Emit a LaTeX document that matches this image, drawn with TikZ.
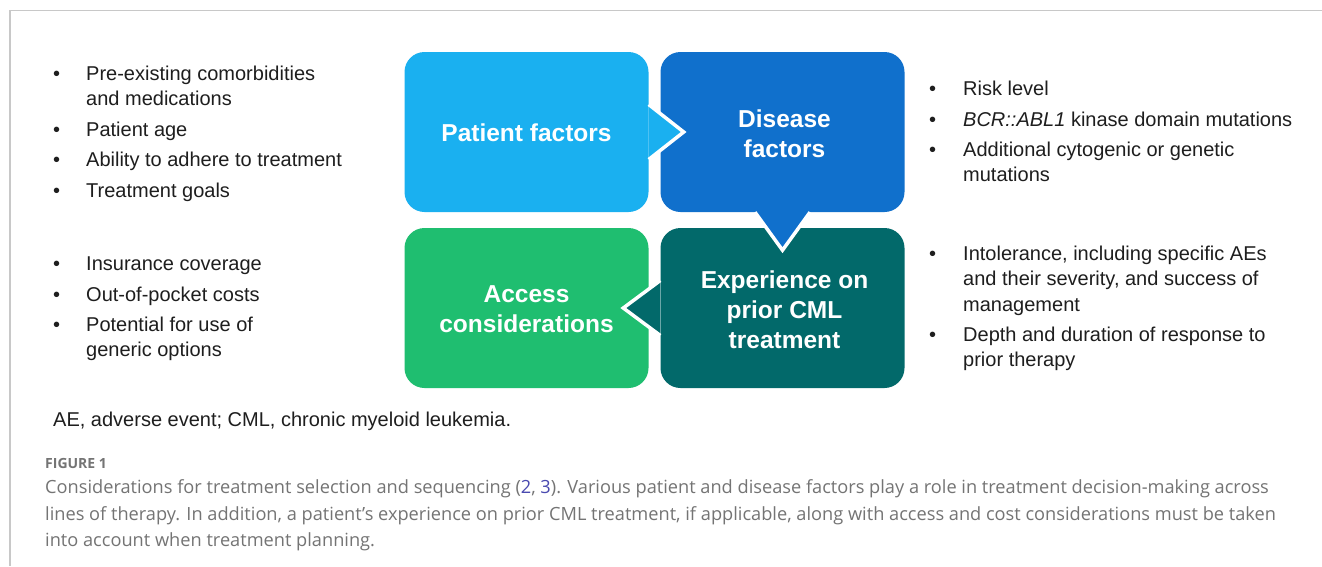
\documentclass[tikz,border=0pt]{standalone}
\usepackage{fontspec}
\setmainfont{Liberation Sans}
\newfontfamily\capfont{Open Sans}
\usetikzlibrary{calc}
\definecolor{patcol}{HTML}{1AB0F0}
\definecolor{discol}{HTML}{1070CC}
\definecolor{expcol}{HTML}{02696A}
\definecolor{acccol}{HTML}{1FBE70}
\definecolor{txtcol}{HTML}{1E1E1E}
\definecolor{capcol}{HTML}{747474}
\definecolor{refcol}{HTML}{4A4AB0}
\definecolor{framecol}{HTML}{C8C8C8}
\tikzset{
  box/.style={rectangle, rounded corners=20pt, minimum width=244pt, minimum height=160pt,
    inner sep=0pt},
  boxlabel/.style={inner sep=0pt, text=white, align=center, font=\fontsize{24.5}{30}\selectfont\bfseries},
  notch/.style={draw=white, line width=3.5pt, line join=miter},
  txt/.style={anchor=base west, inner sep=0pt, text=txtcol, font=\fontsize{20}{24}\selectfont},
  captxt/.style={anchor=base west, inner sep=0pt, text=capcol, font=\capfont\fontsize{18.2}{20}\selectfont},
}
\begin{document}
\begin{tikzpicture}[x=1pt, y=-1pt]
\useasboundingbox (0,0) rectangle (1322,566);
\fill[white] (0,0) rectangle (1322,566);
% frame
\coordinate (ftl) at (10,10.5);
\coordinate (ftr) at (1322,10.5);
\coordinate (fbl) at (10,566);
\draw[framecol, line width=1.5pt] (ftr) -- (ftl) -- (fbl);
% boxes
\node[box, fill=discol] (dis) at (782.5,132) {};
\node[box, fill=expcol] (exp) at (782.5,308) {};
\node[box, fill=acccol] (acc) at (526.5,308) {};
\node[box, fill=patcol] (pat) at (526.5,132) {};
% notches (connectors)
\filldraw[notch, fill=patcol] ($(pat.east)+(0,-27.5)$) -- ($(pat.east)+(35,0)$) -- ($(pat.east)+(0,27.5)$);
\filldraw[notch, fill=discol] ($(dis.south)+(-27.5,0)$) -- ($(dis.south)+(0,38)$) -- ($(dis.south)+(27.5,0)$);
\filldraw[notch, fill=expcol] ($(exp.west)+(0,-27.5)$) -- ($(exp.west)+(-37,0)$) -- ($(exp.west)+(0,27.5)$);
% box labels
\node[boxlabel] (patlab) at ($(pat)+(0,1)$) {Patient factors};
\node[boxlabel] (dislab) at ($(dis)+(2,2)$) {Disease\\factors};
\node[boxlabel] (acclab) at ($(acc)+(0,1.5)$) {Access\\considerations};
\node[boxlabel] (explab) at ($(exp)+(2,2)$) {Experience on\\prior CML\\treatment};
% left top list
\node[txt] (b1) at (53,80) {•};
\node[txt] (t1a) at (86,80) {Pre-existing comorbidities};
\node[txt] (t1b) at (86,105) {and medications};
\node[txt] (b2) at (53,136) {•};
\node[txt] (t2) at (86,136) {Patient age};
\node[txt] (b3) at (53,166) {•};
\node[txt] (t3) at (86,166) {Ability to adhere to treatment};
\node[txt] (b4) at (53,197) {•};
\node[txt] (t4) at (86,197) {Treatment goals};
% left bottom list
\node[txt] (b5) at (53,270) {•};
\node[txt] (t5) at (86,270) {Insurance coverage};
\node[txt] (b6) at (53,301) {•};
\node[txt] (t6) at (86,301) {Out-of-pocket costs};
\node[txt] (b7) at (53,331) {•};
\node[txt] (t7a) at (86,331) {Potential for use of};
\node[txt] (t7b) at (86,356) {generic options};
% right top list
\node[txt] (b8) at (929,95) {•};
\node[txt] (t8) at (963,95) {Risk level};
\node[txt] (b9) at (929,126) {•};
\node[txt] (t9) at (963,126) {\itshape BCR::ABL1\upshape{} kinase domain mutations};
\node[txt] (b10) at (929,156) {•};
\node[txt] (t10a) at (963,156) {Additional cytogenic or genetic};
\node[txt] (t10b) at (963,181) {mutations};
% right bottom list
\node[txt] (b11) at (929,260) {•};
\node[txt] (t11a) at (963,260) {Intolerance, including specific AEs};
\node[txt] (t11b) at (963,285) {and their severity, and success of};
\node[txt] (t11c) at (963,311) {management};
\node[txt] (b12) at (929,341) {•};
\node[txt] (t12a) at (963,341) {Depth and duration of response to};
\node[txt] (t12b) at (963,366) {prior therapy};
% footnote
\node[txt] (fn) at (53,426) {AE, adverse event; CML, chronic myeloid leukemia.};
% caption
\node[captxt, font=\capfont\bfseries\fontsize{14}{16}\selectfont] (figlab) at (45,468) {FIGURE 1};
\node[captxt] (c1) at (45,493) {Considerations for treatment selection and sequencing (\textcolor{refcol}{2}, \textcolor{refcol}{3}). Various patient and disease factors play a role in treatment decision-making across};
\node[captxt] (c2) at (45,520) {lines of therapy. In addition, a patient’s experience on prior CML treatment, if applicable, along with access and cost considerations must be taken};
\node[captxt] (c3) at (45,546) {into account when treatment planning.};
\end{tikzpicture}
\end{document}
